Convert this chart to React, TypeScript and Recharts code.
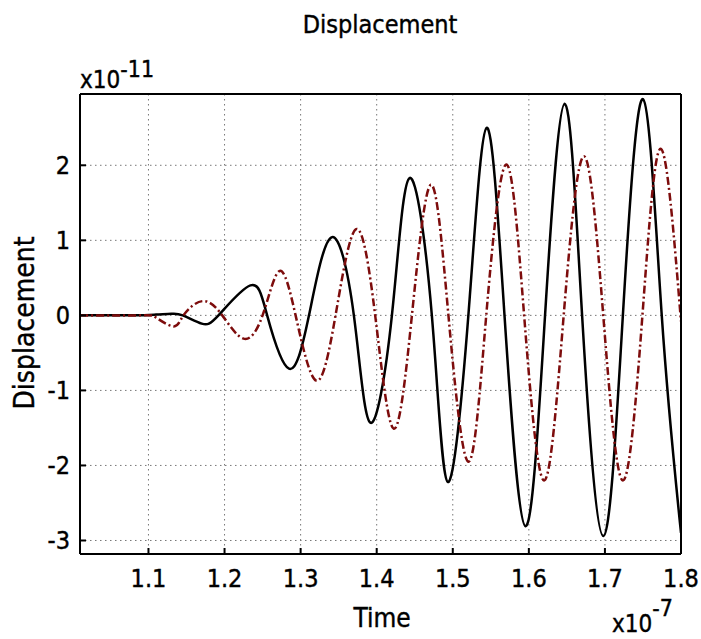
import { LineChart, Line, XAxis, YAxis, CartesianGrid } from "recharts";

// solid black trace (time in 1e-7 s, displacement in 1e-11)
const blackTime = [
  1.01, 1.08, 1.11, 1.13, 1.145, 1.17, 1.192, 1.234, 1.256, 1.2847, 1.311,
  1.3406, 1.37, 1.3917, 1.42, 1.4432, 1.4725, 1.4934, 1.5205, 1.5445, 1.568,
  1.5956, 1.6213, 1.6471, 1.67, 1.6978, 1.7236, 1.7502, 1.7747, 1.8,
];
const blackDisp = [
  0, 0, 0.01, 0.02, 0, -0.11, 0, 0.4, 0, -0.71, 0,
  1.04, 0, -1.43, 0, 1.83, 0, -2.22, 0, 2.5, 0,
  -2.81, 0, 2.82, 0, -2.94, 0, 2.88, 0, -2.9,
];

// dark red dash-dot trace
const redTime = [
  1.01, 1.09, 1.11, 1.133, 1.146, 1.171, 1.197, 1.225, 1.25, 1.272, 1.2934,
  1.3205, 1.3459, 1.373, 1.398, 1.4223, 1.4463, 1.4712, 1.4943, 1.5205, 1.544,
  1.5702, 1.5938, 1.62, 1.6458, 1.6724, 1.6978, 1.7236, 1.7493, 1.7733, 1.8,
];
const redDisp = [
  0, 0, -0.03, -0.147, 0, 0.19, 0, -0.31, 0, 0.59, 0,
  -0.87, 0, 1.15, 0, -1.51, 0, 1.74, 0, -1.95, 0,
  2.01, 0, -2.2, 0, 2.12, 0, -2.2, 0, 2.22, -0.08,
];

const timeTicks = [1.1, 1.2, 1.3, 1.4, 1.5, 1.6, 1.7, 1.8];
const dispTicks = [-3, -2, -1, 0, 1, 2];
const timeDomain: [number, number] = [1.01, 1.8];
const dispDomain: [number, number] = [-3.18, 2.95];

const FONT = "'DejaVu Sans Condensed', 'DejaVu Sans', Verdana, sans-serif";

const toPoints = (ts: number[], vs: number[]) => ts.map((t, i) => ({ t, v: vs[i] }));

export default function App() {
  const blackData = toPoints(blackTime, blackDisp);
  const redData = toPoints(redTime, redDisp);
  const frame = { stroke: "#000", strokeWidth: 2 };
  const tickText = { fill: "#000", fontSize: 25, stroke: "#000", strokeWidth: 0.4 };

  return (
    <div
      style={{
        position: "absolute",
        left: 0,
        top: 0,
        width: 701,
        height: 639,
        background: "#fff",
        fontFamily: FONT,
        fontStretch: "condensed",
      }}
    >
      <LineChart width={701} height={639} margin={{ top: 94, right: 20, bottom: 0, left: 0 }}>
        <CartesianGrid stroke="#777" strokeDasharray="1.5 3.5" />
        <XAxis
          dataKey="t"
          type="number"
          domain={timeDomain}
          ticks={timeTicks}
          allowDataOverflow
          height={85}
          tickSize={-6}
          tickMargin={21}
          axisLine={frame}
          tickLine={frame}
          tick={tickText}
          tickFormatter={(v: number) => v.toFixed(1)}
        />
        <YAxis
          type="number"
          domain={dispDomain}
          ticks={dispTicks}
          allowDataOverflow
          width={80}
          tickSize={-6}
          tickMargin={16}
          axisLine={frame}
          tickLine={frame}
          tick={tickText}
        />
        {/* top and right edges of the box, mirrored so ticks point inward */}
        <XAxis
          xAxisId="top"
          orientation="top"
          mirror
          dataKey="t"
          type="number"
          domain={timeDomain}
          ticks={timeTicks}
          allowDataOverflow
          height={20}
          tickSize={6}
          axisLine={frame}
          tickLine={frame}
          tick={false}
        />
        <YAxis
          yAxisId="right"
          orientation="right"
          mirror
          type="number"
          domain={dispDomain}
          ticks={dispTicks}
          allowDataOverflow
          width={20}
          tickSize={6}
          axisLine={frame}
          tickLine={frame}
          tick={false}
        />
        <Line
          data={blackData}
          dataKey="v"
          type="natural"
          stroke="#000"
          strokeWidth={2.5}
          dot={false}
          isAnimationActive={false}
        />
        <Line
          data={redData}
          dataKey="v"
          xAxisId="top"
          yAxisId="right"
          type="natural"
          stroke="#7d0c0c"
          strokeWidth={2.5}
          strokeDasharray="8 3 2 3"
          dot={false}
          isAnimationActive={false}
        />
      </LineChart>
      <svg
        width={701}
        height={639}
        style={{ position: "absolute", left: 0, top: 0, pointerEvents: "none" }}
        fill="#000"
        stroke="#000"
        strokeWidth={0.4}
      >
        <text x={380} y={33} fontSize={25} textAnchor="middle">Displacement</text>
        <text x={80} y={88} fontSize={24}>
          x10<tspan dy={-11} fontSize={23}>-11</tspan>
        </text>
        <text x={382} y={627} fontSize={26} textAnchor="middle">Time</text>
        <text x={612} y={632} fontSize={24}>
          x10<tspan dy={-16} fontSize={23}>-7</tspan>
        </text>
        <text x={34} y={323} fontSize={28} textAnchor="middle" transform="rotate(-90 34 323)">
          Displacement
        </text>
      </svg>
    </div>
  );
}
